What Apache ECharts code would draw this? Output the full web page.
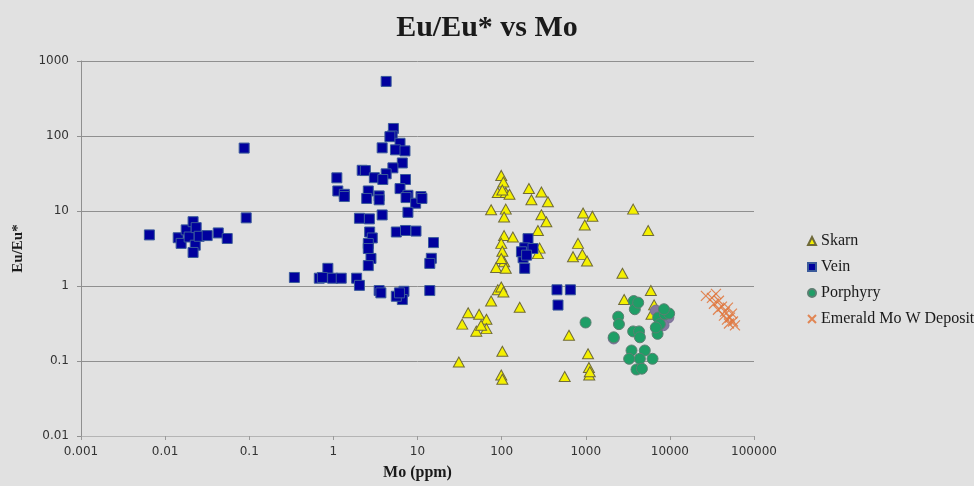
<!DOCTYPE html>
<html>
<head>
<meta charset="utf-8">
<title>Eu/Eu* vs Mo</title>
<script src="https://cdn.jsdelivr.net/npm/echarts@6/dist/echarts.min.js"></script>
<style>
  html, body { margin: 0; padding: 0; background: #e1e1e1; }
  #chart { width: 974px; height: 486px; }
</style>
</head>
<body>
<div id="chart"></div>
<script>
// Decade tick labels for the two log axes
const xTickLabels = ['0.001', '0.01', '0.1', '1', '10', '100', '1000', '10000', '100000'];
const yTickLabels = ['0.01', '0.1', '1', '10', '100', '1000'];

// Skarn samples: [Mo (ppm), Eu/Eu*]
const skarn = [
  [99, 29.8], [105, 24.3], [90, 17.6], [112, 17.6], [124, 16.7], [102, 19], [211, 19.9], [226, 14.1],
  [297, 17.9], [355, 13.3], [75, 10.4], [112, 10.6], [107, 8.3], [297, 8.9], [340, 7.2], [270, 5.5],
  [107, 4.7], [136, 4.5], [99, 3.7], [283, 3.2], [270, 2.7], [102, 2.9], [107, 2.1], [86, 1.76],
  [112, 1.72], [99, 2.33], [929, 9.4], [1200, 8.5], [973, 6.5], [809, 3.7], [706, 2.46], [912, 2.64],
  [1036, 2.15], [90, 0.89], [99, 0.97], [105, 0.83], [75, 0.63], [164, 0.52], [40, 0.44], [54, 0.42],
  [66, 0.36], [34, 0.31], [50, 0.25], [66, 0.27], [57, 0.3], [632, 0.22], [102, 0.135], [31, 0.097],
  [1064, 0.125], [99, 0.065], [102, 0.057], [562, 0.062], [1090, 0.082], [1100, 0.065], [1117, 0.072],
  [3660, 10.6], [5520, 5.5], [2730, 1.48], [5940, 0.87], [2860, 0.66], [6500, 0.56], [6050, 0.42]
];

// Vein samples
const vein = [
  [0.0065, 4.8], [0.0143, 4.4], [0.0155, 3.7], [0.0178, 5.6], [0.0193, 4.5], [0.0215, 7.2],
  [0.0228, 3.5], [0.0215, 2.8], [0.0234, 6.0], [0.0254, 4.6], [0.0316, 4.7], [0.0428, 5.1],
  [0.0547, 4.3], [0.087, 69], [0.092, 8.1],
  [4.24, 534], [5.17, 126], [5.0, 100], [4.7, 98], [6.2, 80], [3.8, 69.5], [5.47, 65.4], [7.1, 63.3],
  [6.6, 43.7], [5.1, 37.6], [4.24, 31.3], [2.2, 34.9], [2.4, 34.6], [3.07, 27.8], [3.87, 26.3],
  [1.1, 27.7], [7.2, 26.3], [1.13, 18.5], [1.35, 16.7], [2.6, 18.5], [3.5, 15.9], [6.2, 19.9],
  [7.7, 16.2], [11, 15.6], [1.35, 15.6], [2.49, 14.7], [3.5, 14.1], [7.3, 15.1], [9.5, 12.7],
  [11.3, 14.7], [2.04, 8.0], [2.68, 7.85], [3.8, 8.86], [7.7, 9.6], [5.6, 5.25], [7.2, 5.5],
  [9.6, 5.4], [15.5, 3.79], [14.6, 2.34], [14, 2.0], [14, 0.87], [2.7, 5.25], [2.9, 4.37],
  [2.6, 3.68], [2.6, 3.16], [2.8, 2.33], [2.6, 1.87], [0.344, 1.3], [0.86, 1.72], [0.68, 1.27],
  [0.74, 1.3], [0.98, 1.27], [1.24, 1.27], [1.89, 1.27], [2.04, 1.02], [3.5, 0.87], [3.67, 0.81],
  [6.9, 0.85], [6.6, 0.66], [5.6, 0.73], [6.1, 0.81],
  [206, 4.28], [188, 3.23], [180, 2.38], [188, 1.72], [172, 2.86], [236, 3.16], [198, 2.58],
  [455, 0.89], [657, 0.89], [468, 0.557]
];

// Porphyry samples (two shades)
const porphyryAltered = [
  [8000, 0.45], [9000, 0.42], [9600, 0.38], [7600, 0.34], [8400, 0.3], [7000, 0.27], [2150, 0.2], [6800, 0.47]
];
const porphyry = [
  [995, 0.326], [2430, 0.39], [2480, 0.31], [2150, 0.207], [3720, 0.63], [3830, 0.49], [4200, 0.6],
  [3660, 0.248], [4300, 0.248], [4400, 0.207], [3500, 0.138], [5030, 0.138], [3280, 0.107],
  [4400, 0.107], [6220, 0.107], [4010, 0.077], [4650, 0.079], [7260, 0.38], [8710, 0.42],
  [9800, 0.43], [7600, 0.31], [7140, 0.23], [8500, 0.49], [6800, 0.28]
];

// Emerald Mo W Deposit samples
const emerald = [
  [26800, 0.74], [31600, 0.695], [35300, 0.785], [33400, 0.58], [38300, 0.635], [41600, 0.53],
  [37300, 0.483], [45200, 0.455], [49000, 0.514], [43900, 0.403], [51800, 0.379], [56200, 0.336],
  [50400, 0.316], [59400, 0.298], [47700, 0.357], [54700, 0.428]
];

const serif = '"Liberation Serif", "DejaVu Serif", serif';
const crossPath = 'path://M0,0L10,10M10,0L0,10';

const chart = echarts.init(document.getElementById('chart'));
chart.setOption({
  backgroundColor: '#e1e1e1',
  animation: false,
  title: {
    text: 'Eu/Eu* vs Mo',
    left: 'center',
    top: 8,
    textStyle: { fontFamily: serif, fontWeight: 'bold', fontSize: 30, color: '#1a1a1a' }
  },
  grid: { left: 81, right: 220, top: 61, bottom: 47, containLabel: false },
  legend: {
    orient: 'vertical',
    left: 802,
    top: 227,
    itemWidth: 8,
    itemHeight: 8,
    itemGap: 8,
    data: [
      { name: 'Skarn', icon: 'triangle' },
      { name: 'Vein', icon: 'rect' },
      { name: 'Porphyry', icon: 'circle' },
      { name: 'Emerald Mo W Deposit', icon: crossPath }
    ],
    textStyle: { fontFamily: serif, fontSize: 16, lineHeight: 18, color: '#1a1a1a' }
  },
  xAxis: {
    type: 'log',
    logBase: 10,
    min: 0.001,
    max: 100000,
    splitNumber: 8,
    name: 'Mo (ppm)',
    nameLocation: 'middle',
    nameGap: 29,
    nameTextStyle: { fontFamily: serif, fontWeight: 'bold', fontSize: 16, color: '#1a1a1a' },
    axisLine: { show: true, lineStyle: { color: '#b4b4b4', width: 1 } },
    axisTick: { show: true, length: 4, lineStyle: { color: '#9a9a9a' } },
    splitLine: { show: false },
    axisLabel: {
      margin: 10,
      fontFamily: '"DejaVu Sans", sans-serif',
      fontSize: 12,
      color: '#333333',
      formatter: v => xTickLabels[Math.round(Math.log10(v)) + 3]
    }
  },
  yAxis: {
    type: 'log',
    logBase: 10,
    min: 0.01,
    max: 1000,
    splitNumber: 5,
    name: 'Eu/Eu*',
    nameLocation: 'middle',
    nameGap: 55,
    nameTextStyle: { fontFamily: serif, fontWeight: 'bold', fontSize: 15, color: '#1a1a1a' },
    axisLine: { show: true, lineStyle: { color: '#8f8f8f', width: 1 } },
    axisTick: { show: true, length: 4, lineStyle: { color: '#8f8f8f' } },
    splitLine: { show: true, lineStyle: { color: '#8f8f8f', width: 1 } },
    axisLabel: {
      margin: 12,
      fontFamily: '"DejaVu Sans", sans-serif',
      fontSize: 12,
      color: '#333333',
      formatter: v => yTickLabels[Math.round(Math.log10(v)) + 2]
    }
  },
  series: [
    {
      name: 'Skarn',
      type: 'scatter',
      data: skarn,
      symbol: 'triangle',
      symbolSize: [11, 10],
      itemStyle: { color: '#f4f000', borderColor: '#6f6a3a', borderWidth: 1, opacity: 1 }
    },
    {
      name: 'Vein',
      type: 'scatter',
      data: vein,
      symbol: 'rect',
      symbolSize: 10,
      itemStyle: { color: '#00009e', borderColor: '#3a5a9a', borderWidth: 1, opacity: 1 }
    },
    {
      name: 'Porphyry B',
      type: 'scatter',
      data: porphyryAltered,
      symbol: 'circle',
      symbolSize: 11,
      itemStyle: { color: '#8577a0', borderColor: '#7a6f96', borderWidth: 1, opacity: 1 }
    },
    {
      name: 'Porphyry',
      type: 'scatter',
      data: porphyry,
      symbol: 'circle',
      symbolSize: 11,
      itemStyle: { color: '#1e9e66', borderColor: '#5c7f72', borderWidth: 1, opacity: 1 }
    },
    {
      name: 'Emerald Mo W Deposit',
      type: 'scatter',
      data: emerald,
      symbol: crossPath,
      symbolSize: 10,
      itemStyle: { color: '#e0743a', borderColor: '#e0743a', borderWidth: 1.2, opacity: 0.85 }
    }
  ]
});
</script>
</body>
</html>
